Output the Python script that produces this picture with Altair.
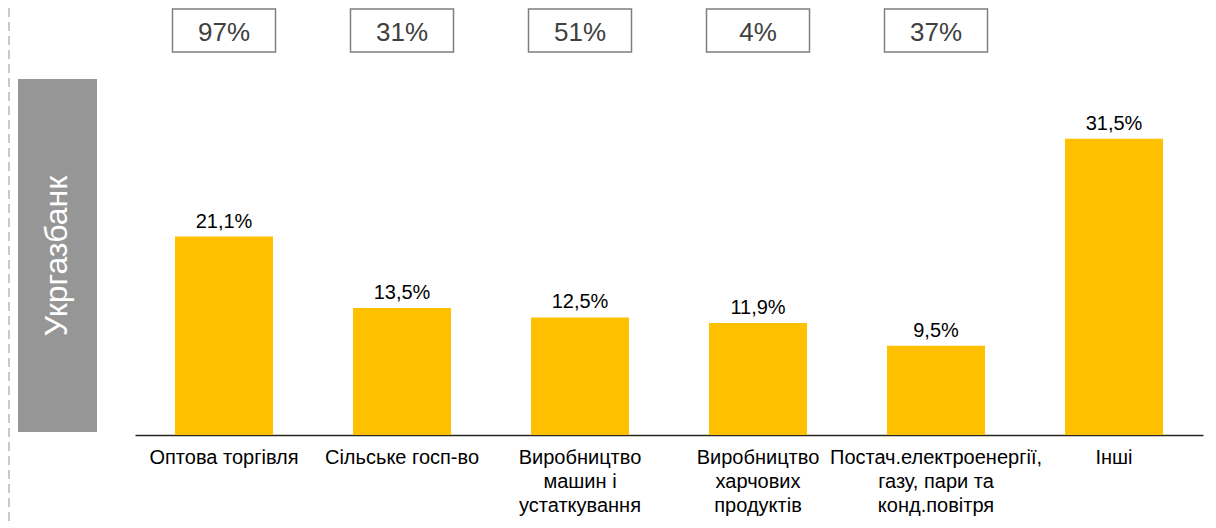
import altair as alt
import pandas as pd

categories = [
    "Оптова торгівля",
    "Сільське госп-во",
    "Виробництво\nмашин і\nустаткування",
    "Виробництво\nхарчових\nпродуктів",
    "Постач.електроенергії,\nгазу, пари та\nконд.повітря",
    "Інші",
]
values = [21.1, 13.5, 12.5, 11.9, 9.5, 31.5]
box_values = ["97%", "31%", "51%", "4%", "37%"]
bank_name = "Укргазбанк"

FONT = "Liberation Sans"

df = pd.DataFrame({
    "cat": categories,
    "val": values,
    "lab": [f"{v:.1f}".replace(".", ",") + "%" for v in values],
})
df_box = pd.DataFrame({"cat": categories[:len(box_values)], "txt": box_values})
df_one = pd.DataFrame({"t": [bank_name]})

xenc = alt.X(
    "cat:N",
    sort=categories,
    scale=alt.Scale(paddingInner=0.45, paddingOuter=0.225),
    axis=alt.Axis(
        title=None,
        ticks=False,
        domainColor="#262626",
        domainWidth=1.5,
        labelExpr="split(datum.label, '\\n')",
        labelFont=FONT,
        labelFontSize=20,
        labelColor="#000000",
        labelLineHeight=24,
        labelPadding=22,
        labelLimit=0,
        labelOverlap=False,
        labelBound=False,
        labelAngle=0,
        labelAlign="center",
    ),
)
yscale = alt.Scale(domain=[0, 45.4])

bars = alt.Chart(df).mark_bar(color="#FFC000", width=98).encode(
    x=xenc,
    y=alt.Y("val:Q", scale=yscale, axis=None),
)
bar_text = alt.Chart(df).mark_text(
    font=FONT, fontSize=20, color="#000000", baseline="alphabetic", dy=-9
).encode(
    x=alt.X("cat:N", sort=categories),
    y=alt.Y("val:Q", scale=yscale),
    text="lab:N",
)
boxes = alt.Chart(df_box).mark_bar(
    width=103, fill="#ffffff", stroke="#7f7f7f", strokeWidth=1.5
).encode(
    x=alt.X("cat:N", sort=categories),
    y=alt.value(1),
    y2=alt.value(44),
)
box_text = alt.Chart(df_box).mark_text(
    font=FONT, fontSize=26, color="#404040", baseline="middle"
).encode(
    x=alt.X("cat:N", sort=categories),
    y=alt.value(24.5),
    text="txt:N",
)
side_rect = alt.Chart(df_one).mark_rect(color="#969696").encode(
    x=alt.value(-117), x2=alt.value(-38), y=alt.value(71), y2=alt.value(424)
)
side_text = alt.Chart(df_one).mark_text(
    font=FONT, fontSize=32, color="#ffffff", angle=270, baseline="middle", align="center"
).encode(
    x=alt.value(-78), y=alt.value(248), text="t:N"
)
dash = alt.Chart(df_one).mark_rule(color="#a6a6a6", strokeDash=[9, 5], strokeWidth=1.2).encode(
    x=alt.value(-126), y=alt.value(0), y2=alt.value(520)
)

chart = alt.layer(dash, side_rect, side_text, boxes, box_text, bars, bar_text).properties(
    width=1068,
    height=427,
    padding={"left": 127, "top": 0, "right": 4, "bottom": 90},
    autosize=alt.AutoSizeParams(type="none"),
).configure_view(stroke=None).resolve_scale(x="shared")

chart.save("out.html", embed_options={"renderer": "svg", "actions": False})
